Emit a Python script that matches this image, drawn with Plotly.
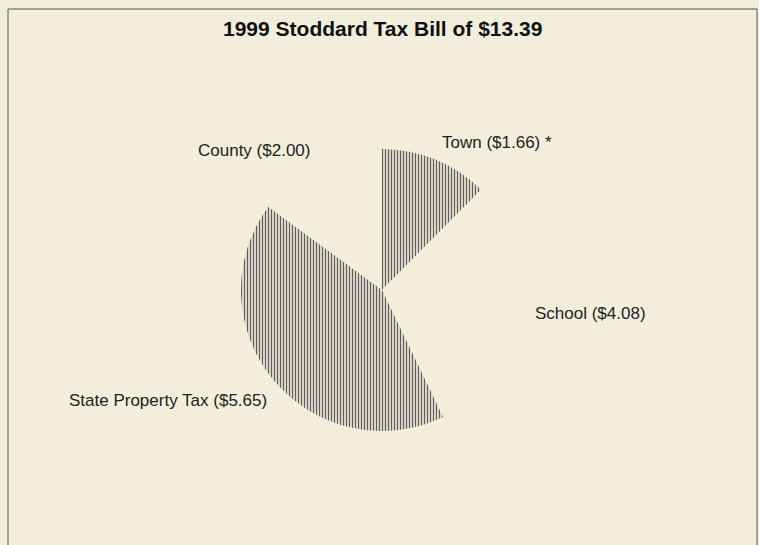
import plotly.graph_objects as go

categories = ["Town", "School", "State Property Tax", "County"]
values = [1.66, 4.08, 5.65, 2.00]
label_suffix = [" *", "", "", ""]
title_text = "1999 Stoddard Tax Bill of $13.39"

BG = "#F3EDDB"
W, H = 759, 545
CX, CY, R = 382, 290, 141

fig = go.Figure(go.Pie(
    labels=categories,
    values=values,
    sort=False,
    direction="clockwise",
    rotation=0,
    textinfo="none",
    hoverinfo="label+value",
    showlegend=False,
    marker=dict(
        colors=[BG] * 4,
        line=dict(width=0),
        pattern=dict(shape=["|", "", "|", ""], fgcolor="#5c5c5c",
                     bgcolor=BG, size=3, solidity=0.45),
    ),
    domain=dict(x=[(CX - R) / W, (CX + R) / W],
                y=[(H - CY - R) / H, (H - CY + R) / H]),
))

label_pos = {
    "Town": (440, 142, "left"),
    "School": (533, 313, "left"),
    "State Property Tax": (67, 400, "left"),
    "County": (254, 150, "center"),
}
anns = []
for cat, val, suf in zip(categories, values, label_suffix):
    x, y, anc = label_pos[cat]
    anns.append(dict(x=x / W, y=1 - y / H, xref="paper", yref="paper",
                     text=f"{cat} (${val:.2f}){suf}", showarrow=False,
                     xanchor=anc, yanchor="middle",
                     font=dict(family="Liberation Sans, Arial", size=17, color="#222")))
anns.append(dict(x=382 / W, y=1 - 28 / H, xref="paper", yref="paper",
                 text=f"<b>{title_text}</b>", showarrow=False,
                 xanchor="center", yanchor="middle",
                 font=dict(family="Liberation Sans, Arial", size=21, color="#111")))

shapes = [
    dict(type="line", xref="paper", yref="paper", x0=8 / W, x1=757 / W, y0=1 - 9 / H, y1=1 - 9 / H,
         line=dict(color="#555", width=1)),
    dict(type="line", xref="paper", yref="paper", x0=8 / W, x1=8 / W, y0=0, y1=1 - 9 / H,
         line=dict(color="#555", width=1)),
    dict(type="line", xref="paper", yref="paper", x0=757 / W, x1=757 / W, y0=0, y1=1 - 9 / H,
         line=dict(color="#555", width=1)),
]

fig.update_layout(
    width=W, height=H,
    margin=dict(l=0, r=0, t=0, b=0),
    paper_bgcolor=BG, plot_bgcolor=BG,
    annotations=anns, shapes=shapes,
)
fig.write_html("out.html")
